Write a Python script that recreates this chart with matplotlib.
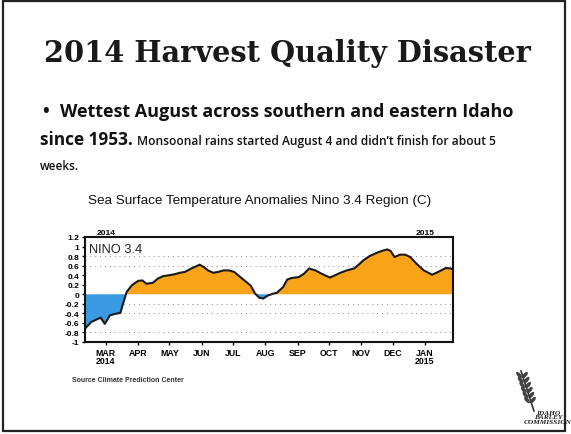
import matplotlib
matplotlib.use("Agg")
import matplotlib.pyplot as plt
from matplotlib.patches import Rectangle, Ellipse
from matplotlib.lines import Line2D

# ---- data (days since 2014-01-01, SST anomaly in C) ----
days = [39, 45, 54, 58, 63, 68, 73, 75, 79, 84, 90, 94, 98, 104, 109, 114, 120,
        125, 130, 135, 141, 146, 149, 153, 157, 162, 167, 172, 177, 182, 188,
        193, 198, 202, 206, 210, 214, 219, 223, 229, 233, 237, 244, 249, 254,
        260, 266, 274, 279, 284, 290, 297, 301, 306, 312, 319, 324, 329, 332,
        336, 341, 346, 351, 357, 364, 372, 378, 385, 390, 392]
anom = [-0.72, -0.58, -0.49, -0.62, -0.44, -0.41, -0.39, -0.23, 0.05, 0.19, 0.28,
        0.29, 0.22, 0.24, 0.33, 0.38, 0.40, 0.42, 0.45, 0.47, 0.54, 0.59, 0.62,
        0.57, 0.50, 0.45, 0.47, 0.50, 0.50, 0.47, 0.36, 0.27, 0.18, 0.02, -0.07,
        -0.09, -0.03, 0.01, 0.03, 0.15, 0.31, 0.34, 0.36, 0.43, 0.54, 0.50, 0.43,
        0.35, 0.40, 0.45, 0.50, 0.54, 0.61, 0.71, 0.80, 0.87, 0.91, 0.94, 0.91,
        0.78, 0.83, 0.83, 0.78, 0.64, 0.50, 0.41, 0.47, 0.55, 0.54, 0.52]
month_days = [59, 90, 120, 151, 181, 212, 243, 273, 304, 334, 365]
month_labels = ["MAR\n2014", "APR", "MAY", "JUN", "JUL", "AUG", "SEP", "OCT",
                "NOV", "DEC", "JAN\n2015"]
yticks = [1.2, 1, 0.8, 0.6, 0.4, 0.2, 0, -0.2, -0.4, -0.6, -0.8, -1]
ytick_labels = ["1.2", "1", "0.8", "0.6", "0.4", "0.2", "0", "-0.2", "-0.4",
                "-0.6", "-0.8", "-1"]

W, H = 571, 435
fig = plt.figure(figsize=(W / 100, H / 100), dpi=100)
fig.patch.set_facecolor("white")

# slide border
fig.add_artist(Rectangle((3 / W, 1 - 432 / H), (565 - 3) / W, (432 - 2) / H,
                         transform=fig.transFigure, fill=False,
                         edgecolor="#222222", linewidth=1.6))

# slide texts
fig.text(0.503, 1 - 53 / H, "2014 Harvest Quality Disaster", ha="center",
         va="center", fontsize=20.8, fontweight="bold", family="DejaVu Serif",
         color="#1a1a1a")
fig.text(42 / W, 1 - 112 / H, "\u2022", ha="left", va="center", fontsize=13,
         fontweight="bold", family="Open Sans", color="#111111")
fig.text(60 / W, 1 - 112 / H, "Wettest August across southern and eastern Idaho",
         ha="left", va="center", fontsize=13.0, fontweight="bold",
         family="Open Sans", color="#111111")
fig.text(40 / W, 1 - 140 / H, "since 1953.", ha="left", va="center",
         fontsize=12.4, fontweight="bold", family="Open Sans", color="#111111")
fig.text(137 / W, 1 - 142 / H,
         "Monsoonal rains started August 4 and didn\u2019t finish for about 5",
         ha="left", va="center", fontsize=8.65, fontweight="semibold",
         family="Open Sans", color="#111111")
fig.text(40 / W, 1 - 166 / H, "weeks.", ha="left", va="center", fontsize=8.5,
         fontweight="semibold", family="Open Sans", color="#111111")
fig.text(0.455, 1 - 201 / H,
         "Sea Surface Temperature Anomalies Nino 3.4 Region (C)", ha="center",
         va="center", fontsize=9.7, family="Liberation Sans", color="#111111")
fig.text(72 / W, 1 - 381 / H, "Source Climate Prediction Center", ha="left",
         va="center", fontsize=5, fontweight="bold", family="Liberation Sans",
         color="#333333")
fig.text(548 / W, 1 - 418 / H, "IDAHO\nBARLEY\nCOMMISSION", ha="center",
         va="center", fontsize=5.3, fontstyle="italic", fontweight="bold",
         family="Liberation Serif", color="#222222", linespacing=0.9)

# small wheat logo sketch
fig.add_artist(Line2D([534 / W, 521 / W], [1 - 412 / H, 1 - 372 / H],
                      transform=fig.transFigure, color="#333333", linewidth=1.2))
for i in range(6):
    yy = 376 + i * 5
    xx = 522 + i * 1.6
    for dx in (-3, 3):
        fig.add_artist(Ellipse(((xx + dx) / W, 1 - yy / H), 4 / W, 7 / H,
                               angle=30 if dx < 0 else -30,
                               transform=fig.transFigure, facecolor="#444444",
                               edgecolor="none"))

# chart
ax = fig.add_axes([85 / W, 1 - 343 / H, (453 - 85) / W, (343 - 238) / H])
ax.set_xlim(39, 392)
ax.set_ylim(-1, 1.2)
for y in [0.8, 0.6, -0.2, -0.4, -0.8]:
    ax.axhline(y, color="#888888", linestyle=(0, (1, 4)), linewidth=0.7,
               zorder=0)
ax.fill_between(days, anom, 0, where=[a >= 0 for a in anom], interpolate=True,
                color="#F9A319", linewidth=0)
ax.fill_between(days, anom, 0, where=[a <= 0 for a in anom], interpolate=True,
                color="#3A9BE3", linewidth=0)
ax.plot(days, anom, color="#1a1a1a", linewidth=1.5)
ax.set_xticks(month_days)
ax.set_xticklabels(month_labels, fontsize=6.3, fontweight="bold",
                   family="Liberation Sans", linespacing=0.9)
ax.set_yticks(yticks)
ax.set_yticklabels(ytick_labels, fontsize=6, fontweight="bold",
                   family="Liberation Sans")
ax.tick_params(axis="both", length=2.5, width=1, pad=1.5, direction="out")
for s in ax.spines.values():
    s.set_linewidth(1.5)
    s.set_color("#111111")
ax.text(0.01, 0.94, "NINO 3.4", transform=ax.transAxes, ha="left", va="top",
        fontsize=9.3, family="Liberation Sans", color="#222222")
ax.text(59, 1.23, "2014", ha="center", va="bottom", fontsize=6,
        fontweight="bold", family="Liberation Sans")
ax.text(365, 1.23, "2015", ha="center", va="bottom", fontsize=6,
        fontweight="bold", family="Liberation Sans")

fig.savefig("out.png", dpi=100)
